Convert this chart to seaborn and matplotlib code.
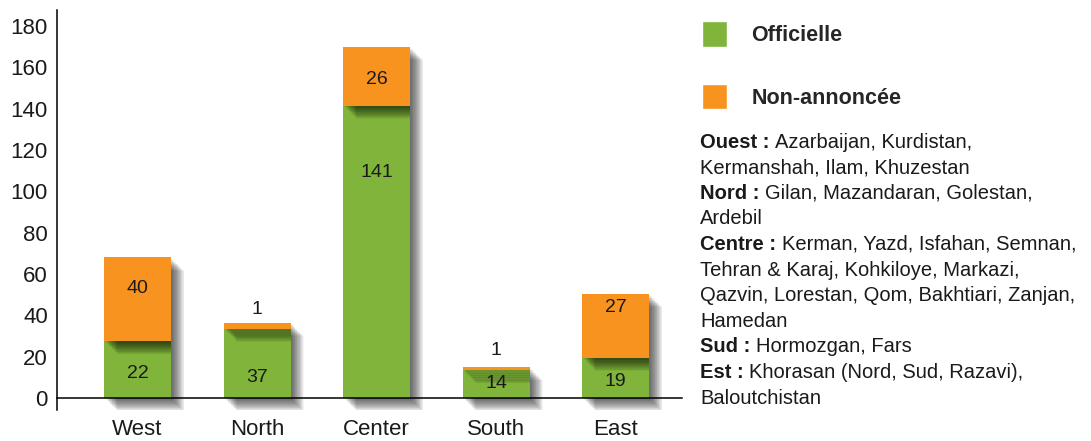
import numpy as np
import pandas as pd
import matplotlib
matplotlib.use('Agg')
import matplotlib.pyplot as plt
import matplotlib.patheffects as pe
from matplotlib.patches import Patch
import seaborn as sns

# categories
regions = ['West', 'North', 'Center', 'South', 'East']
# bar heights as they are drawn in the picture
officielle = [27.5, 33.5, 141.5, 13.5, 19.5]
non_annoncee = [40.5, 3.0, 28.5, 1.5, 31.0]
# numbers printed on the bars
officielle_txt = ['22', '37', '141', '14', '19']
non_annoncee_txt = ['40', '1', '26', '1', '27']
yticks = list(range(0, 181, 20))

legend_labels = ['Officielle', 'Non-annoncée']
notes = [
    ('Ouest : ', 'Azarbaijan, Kurdistan,'),
    ('', 'Kermanshah, Ilam, Khuzestan'),
    ('Nord : ', 'Gilan, Mazandaran, Golestan,'),
    ('', 'Ardebil'),
    ('Centre : ', 'Kerman, Yazd, Isfahan, Semnan,'),
    ('', 'Tehran & Karaj, Kohkiloye, Markazi,'),
    ('', 'Qazvin, Lorestan, Qom, Bakhtiari, Zanjan,'),
    ('', 'Hamedan'),
    ('Sud : ', 'Hormozgan, Fars'),
    ('Est : ', 'Khorasan (Nord, Sud, Razavi),'),
    ('', 'Baloutchistan'),
]

GREEN = '#80b43a'
ORANGE = '#f7931e'
TXT = '#1a1a1a'

sns.set_style('white')
plt.rcParams['font.family'] = ['Liberation Sans', 'DejaVu Sans']

df = pd.DataFrame({'region': regions, 'off': officielle, 'non': non_annoncee})

W, H = 1091, 441
fig = plt.figure(figsize=(W / 100, H / 100), dpi=100)
ax = fig.add_axes([57 / W, 1 - 410 / H, (682 - 57) / W, 400 / H])

sns.barplot(data=df, x='region', y='off', order=regions, color=GREEN,
            saturation=1, width=0.56, errorbar=None, ax=ax, linewidth=0)
sns.barplot(data=df, x='region', y='non', order=regions, color=ORANGE,
            saturation=1, width=0.56, errorbar=None, ax=ax, linewidth=0,
            bottom=df['off'].to_numpy())

# soft drop shadow, faked with many stacked offsets
shadow = [pe.SimplePatchShadow(offset=(d, -d), shadow_rgbFace='black', alpha=0.045)
          for d in np.arange(1.0, 10.0, 0.5)]
for p in ax.patches:
    p.set_path_effects(shadow + [pe.Normal()])

ax.set_xlim(-0.674, 4.556)
ax.set_ylim(-5.8, 187.7)
ax.set_yticks(yticks)
ax.set_xlabel('')
ax.set_ylabel('')
for s in ['top', 'right']:
    ax.spines[s].set_visible(False)
ax.spines['bottom'].set_position(('data', 0))
for s in ['left', 'bottom']:
    ax.spines[s].set_color('black')
    ax.spines[s].set_linewidth(1.1)
    ax.spines[s].set_zorder(5)
ax.tick_params(axis='y', length=0, labelsize=16, pad=6.5, labelcolor=TXT)
ax.tick_params(axis='x', length=0, labelsize=16, pad=15, labelcolor=TXT)

# value labels
lab_off_y = [12, 10, 109, 7, 8]
lab_non_y = [53, 43, 154, 23, 44]
for i in range(len(regions)):
    ax.text(i, lab_off_y[i], officielle_txt[i], ha='center', va='center',
            fontsize=14, color=TXT)
    ax.text(i, lab_non_y[i], non_annoncee_txt[i], ha='center', va='center',
            fontsize=14, color=TXT)

# legend
handles = [Patch(facecolor=GREEN, label=legend_labels[0]),
           Patch(facecolor=ORANGE, label=legend_labels[1])]
fig.legend(handles=handles, loc='upper left', bbox_to_anchor=(702 / W, 1 - 21 / H),
           frameon=False, prop={'weight': 'bold', 'size': 15.5},
           handlelength=1.15, handleheight=1.45, handletextpad=1.15,
           labelspacing=1.72, borderpad=0, borderaxespad=0)

# region notes
for k, (bold, rest) in enumerate(notes):
    y = 1 - (142 + 25.6 * k) / H
    t = fig.text(700 / W, y, bold, fontsize=14.5, weight='bold', color=TXT,
                 ha='left', va='center')
    ax.annotate(rest, xy=(1, 0.5), xycoords=t, fontsize=14.5, color=TXT,
                ha='left', va='center', annotation_clip=False)

fig.savefig('out.png', dpi=100)
